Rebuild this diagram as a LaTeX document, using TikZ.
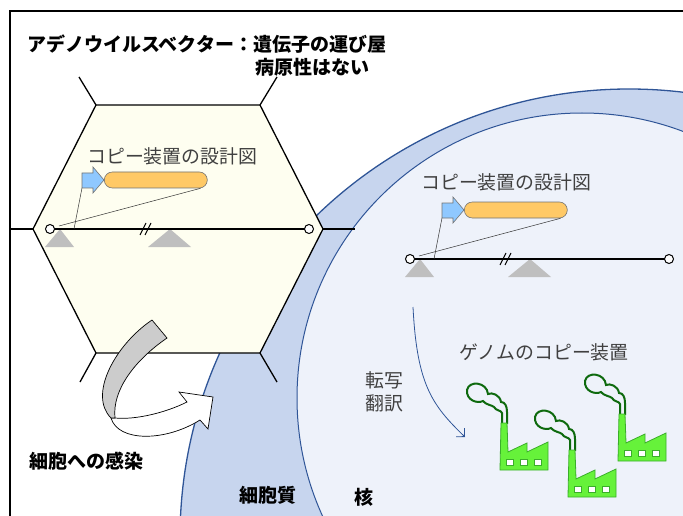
\documentclass[tikz,border=0pt]{standalone}
\usepackage{fontspec}
\newfontfamily\jp{Noto Sans CJK JP}
\usetikzlibrary{arrows.meta}

\definecolor{hexfill}{HTML}{FEFEF0}
\definecolor{cytofill}{HTML}{C7D5EE}
\definecolor{nucfill}{HTML}{EEF2FA}
\definecolor{cellline}{HTML}{2F5597}
\definecolor{pillfill}{HTML}{FFC966}
\definecolor{promfill}{HTML}{8FC8FF}
\definecolor{sitegray}{HTML}{BFBFBF}
\definecolor{labelgray}{HTML}{404040}
\definecolor{factfill}{HTML}{66F23A}
\definecolor{factline}{HTML}{3AAE2A}
\definecolor{smokegreen}{HTML}{0E6A0E}

\tikzset{
  capsid/.style={draw=black, line width=1.3pt, fill=hexfill, line join=miter},
  spoke/.style={draw=black, line width=1.3pt},
  dna/.style={draw=black, line width=1.8pt},
  endcap/.style={circle, draw=black, fill=white, line width=1pt, minimum size=9pt, inner sep=0pt},
  site/.style={fill=sitegray},
  callout/.style={draw=black!80, line width=0.5pt},
  pill/.style={rectangle, draw=black!55, fill=pillfill, line width=0.6pt, rounded corners=8pt,
    minimum width=103pt, minimum height=16pt, inner sep=0pt},
  prom/.style={draw=black!55, fill=promfill, line width=0.6pt, line join=miter},
  grey label/.style={font=\jp\fontsize{18.9}{23}\selectfont, text=labelgray, inner sep=0pt},
  bold label/.style={font=\jp\bfseries\fontsize{19}{23}\selectfont, inner sep=0pt},
  % gene cassette on a DNA strand: promoter, coding region, ends, sites
  construct/.pic={
    \fill[site] (-5,18) -- (24,18) -- (10,0) -- cycle;
    \fill[site] (98,18) -- (141,18) -- (120,0) -- cycle;
    \coordinate (-a) at (0,0);
    \coordinate (-b) at (259,0);
    \draw[dna] (-a) -- (-b);
    \draw[line width=1pt] (90,6) -- (96,-6) (95,6) -- (101,-6);
    \draw[prom] (32,-56) -- (43,-56) -- (43,-62) -- (54,-49) -- (43,-36) -- (43,-41) -- (32,-41) -- cycle;
    \coordinate (-pb) at (32,-41);
    \node[pill, anchor=west] (-g) at (54,-49) {};
    \coordinate (-hit1) at (24,0);
    \coordinate (-hit2) at (9,-3);
    \draw[callout] (-pb) -- (-hit1);
    \draw[callout] ([xshift=-7pt]-g.south east) -- (-hit2);
    \node[endcap] (-l) at (-a) {};
    \node[endcap] (-r) at (-b) {};
  },
  % factory with a puff of smoke; origin at the lower left corner
  factory/.pic={
    \draw[smokegreen, line width=2pt, fill=nucfill]
      (7,-46) -- (7,-58) .. controls (7,-64) and (5,-68) .. (1,-68)
      .. controls (0,-75) and (-8,-78) .. (-12,-76)
      .. controls (-13,-88) and (-31,-90) .. (-33,-80)
      .. controls (-34,-70) and (-23,-66) .. (-17,-69)
      .. controls (-14,-65) and (-8,-65) .. (-6,-63)
      .. controls (-4,-59) and (1,-60) .. (2,-57) -- (2,-46);
    \draw[factline, fill=factfill, line width=0.8pt, line join=miter]
      (0,0) -- (48,0) -- (48,-28) -- (27,-18) -- (27,-27) -- (8,-18) -- (7,-47) -- (1,-47) -- cycle;
    \foreach \wx in {6,20,34}
      \draw[factline, fill=white, line width=0.8pt] (\wx,-5) rectangle ++(7,-6);
  }
}

\begin{document}
\begin{tikzpicture}[x=1pt,y=-1pt]
\useasboundingbox (0,0) rectangle (683,516);
\begin{scope}
\clip (0,0) rectangle (683,516);

% cell: cytoplasm and nucleus
\draw[cellline, line width=1.3pt, fill=cytofill] (629,538) circle[radius=449pt];
\draw[cellline, line width=1pt, fill=nucfill] (582,398) circle[radius=285pt];

% frame
\draw[line width=1.3pt] (10,540) -- (10,11) -- (700,11);

% capsid
\coordinate (h1) at (96,105);  \coordinate (h2) at (260,105);
\coordinate (h3) at (323,229); \coordinate (h4) at (260,353);
\coordinate (h5) at (96,353);  \coordinate (h6) at (33,229);
\coordinate (s1) at (79,77);   \coordinate (s2) at (277,77);
\coordinate (s3) at (355,229); \coordinate (s4) at (277,382);
\coordinate (s5) at (80,382);  \coordinate (s6) at (10,229);
\draw[capsid] (h1) -- (h2) -- (h3) -- (h4) -- (h5) -- (h6) -- cycle;
\foreach \i in {1,...,6} \draw[spoke] (h\i) -- (s\i);

% gene cassettes
\pic (L) at (50,229) {construct};
\pic (R) at (410,259) {construct};

% factories
\pic at (500,470) {factory};
\pic at (568,497) {factory};
\pic at (618,461) {factory};

% transcription / translation
\coordinate (tx0) at (413,307);
\coordinate (tx1) at (465,437);
\draw[cellline, line width=0.8pt, -{Straight Barb[length=6pt,width=12pt]}]
  (tx0) .. controls (417,385) and (432,405) .. (tx1);

% infection arrow
\draw[fill=white, draw=black, line width=0.7pt]
  (111,418) .. controls (118,442) and (165,442) .. (200,420)
  -- (208,429) -- (213,397) -- (179,392) -- (187,402)
  .. controls (165,413) and (135,420) .. (115,418) -- cycle;
\draw[fill=black!20, draw=black, line width=0.7pt]
  (152,320) -- (167,338) .. controls (135,360) and (112,390) .. (115,418)
  -- (111,418) .. controls (88,395) and (115,345) .. (152,320) -- cycle;

% labels
\node[bold label, anchor=west] (title1) at (27,44) {アデノウイルスベクター：遺伝子の運び屋};
\node[bold label, anchor=west] (title2) at (255,67) {病原性はない};
\node[grey label, anchor=west] (plan1) at (87,156) {コピー装置の設計図};
\node[grey label, anchor=west] (plan2) at (421,182) {コピー装置の設計図};
\node[grey label, anchor=west] (copier) at (459,352) {ゲノムのコピー装置};
\node[grey label, anchor=west, align=left] (tt) at (365,391.5) {転写\\翻訳};
\node[bold label, anchor=west] (infect) at (29,461) {細胞への感染};
\node[bold label] (cyto) at (267.5,495) {細胞質};
\node[bold label] (nuc) at (363.5,497) {核};
\end{scope}
\end{tikzpicture}
\end{document}
